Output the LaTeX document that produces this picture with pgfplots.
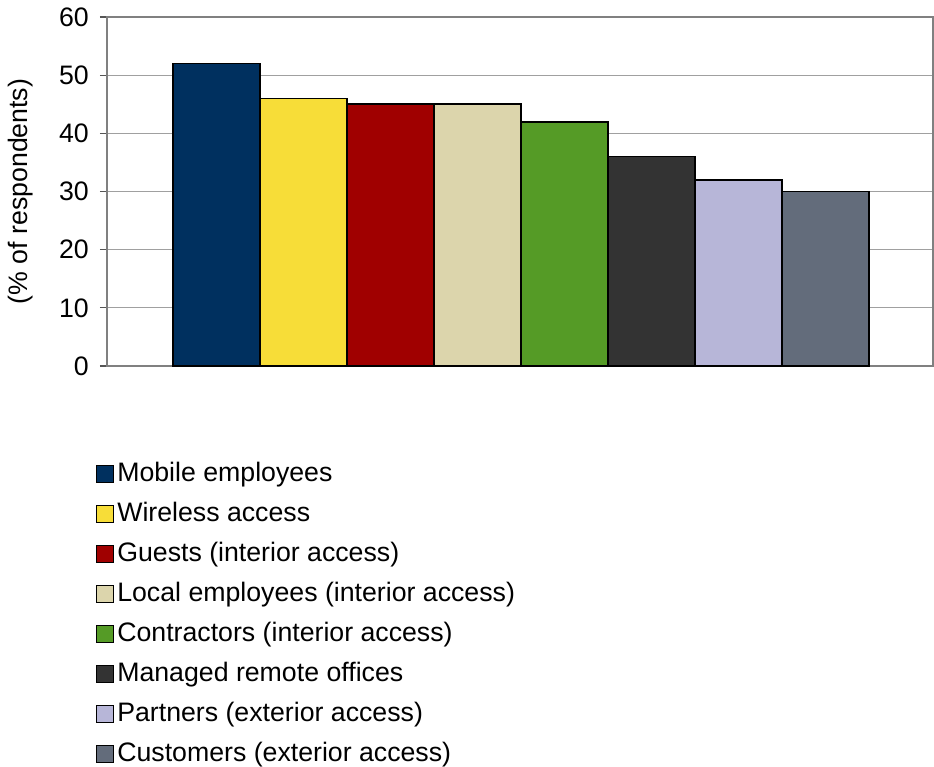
\documentclass[border=0pt]{standalone}
\usepackage{fontspec}
\setmainfont{Liberation Sans}
\usepackage{pgfplots}
\pgfplotsset{compat=1.18}
\definecolor{c1}{HTML}{00305F}
\definecolor{c2}{HTML}{F7DD38}
\definecolor{c3}{HTML}{A00000}
\definecolor{c4}{HTML}{DCD5AC}
\definecolor{c5}{HTML}{559B26}
\definecolor{c6}{HTML}{333333}
\definecolor{c7}{HTML}{B7B6D8}
\definecolor{c8}{HTML}{636C7B}
\definecolor{gridgray}{HTML}{A0A0A0}
\definecolor{axgray}{HTML}{808080}
\definecolor{tickgray}{HTML}{555555}
\begin{document}
\begin{tikzpicture}
\begin{axis}[
  scale only axis,
  width=826bp, height=349bp,
  xmin=-1.259, xmax=8.236,
  ymin=0, ymax=60,
  ytick={0,10,...,60},
  xtick=\empty,
  ytick pos=left,
  ymajorgrids,
  grid style={gridgray, line width=0.8pt},
  axis line style={axgray, line width=1.2pt},
  ytick style={draw=tickgray, line width=1.2pt},
  major tick length=7bp,
  tick align=outside,
  yticklabel style={font=\fontsize{26.8}{30}\selectfont, inner sep=2bp, xshift=-9bp},
  /pgf/number format/assume math mode=true,
  ylabel={(\% of respondents)},
  ylabel style={font=\fontsize{26.8}{30}\selectfont, at={(rel axis cs:0,0.5)}, anchor=center, yshift=86bp},
  ybar, bar width=1, bar shift=0,
  every axis plot/.append style={draw=black, line width=1.6pt},
  legend cell align=left,
  legend style={draw=none, fill=none, inner sep=0pt, outer sep=0pt,
    at={(rel axis cs:-0.0133,-0.275)}, anchor=north west,
    font=\fontsize{26.8}{30}\selectfont, row sep=14bp, column sep=3bp,
    nodes={inner sep=0pt, text height=20bp, text depth=6bp}},
  legend image code/.code={\draw[#1, line width=1.3pt] (0bp,-7.5bp) rectangle (17bp,9.5bp);},
]
\addplot[fill=c1] coordinates {(0,52)};
\addplot[fill=c2] coordinates {(1,46)};
\addplot[fill=c3] coordinates {(2,45)};
\addplot[fill=c4] coordinates {(3,45)};
\addplot[fill=c5] coordinates {(4,42)};
\addplot[fill=c6] coordinates {(5,36)};
\addplot[fill=c7] coordinates {(6,32)};
\addplot[fill=c8] coordinates {(7,30)};
\coordinate (sw) at (rel axis cs:0,0);
\legend{Mobile employees, Wireless access, Guests (interior access), Local employees (interior access), Contractors (interior access), Managed remote offices, Partners (exterior access), Customers (exterior access)}
\end{axis}
\pgfresetboundingbox
\path[use as bounding box] ([xshift=-107bp,yshift=-401bp]sw) rectangle ([xshift=827bp,yshift=366bp]sw);
\end{tikzpicture}
\end{document}
